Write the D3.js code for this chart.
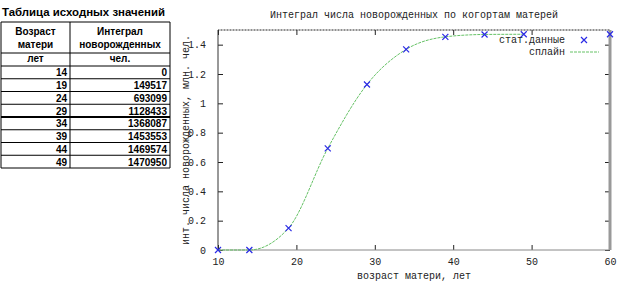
<!DOCTYPE html>
<html>
<head>
<meta charset="utf-8">
<script src="https://cdn.jsdelivr.net/npm/d3@7"></script>
<style>
  body { margin: 0; background: #fff; }
  .mono { font-family: "Liberation Mono", "DejaVu Sans Mono", monospace; font-size: 10px; fill: #222; }
  .tbl { font-family: "Liberation Sans", Arial, sans-serif; font-weight: bold; font-size: 10px; fill: #000; }
</style>
</head>
<body>
<div id="wrapper"></div>
<script>
// source table
const tableAges = [14, 19, 24, 29, 34, 39, 44, 49];
const tableValues = [0, 149517, 693099, 1128433, 1368087, 1453553, 1469574, 1470950];
const tableTitle = "Таблица исходных значений";
const headAge = ["Возраст", "матери", "лет"];
const headValue = ["Интеграл", "новорожденных", "чел."];

// points on the chart (million people)
const pointAges = [10, 14, 19, 24, 29, 34, 39, 44, 49, 60];
const pointValues = [0, 0, 0.149517, 0.693099, 1.128433, 1.368087, 1.453553, 1.469574, 1.470950, 1.470950];
// spline runs over the first part only
const splineAges = [10, 14, 19, 24, 29, 34, 39, 44, 49];
const splineValues = [0, 0, 0.149517, 0.693099, 1.128433, 1.368087, 1.453553, 1.469574, 1.470950];

const xTicks = [10, 20, 30, 40, 50, 60];
const yTicks = [0, 0.2, 0.4, 0.6, 0.8, 1, 1.2, 1.4];

const svg = d3.select("#wrapper").append("svg")
    .attr("width", 623).attr("height", 284);

// ---- table on the left
const tbl = svg.append("g");
tbl.append("text").attr("class", "tbl").attr("x", 2).attr("y", 16)
    .style("font-size", "10px").attr("textLength", 163).attr("lengthAdjust", "spacingAndGlyphs")
    .text(tableTitle);

const colX = [1, 70, 170];
const rowY = d3.scaleLinear().domain([0, 8]).range([66, 168]);
const headLines = [22, 53, 66];

const lineG = tbl.append("g").attr("stroke", "#000");
[...headLines, ...d3.range(1, 9).map(i => rowY(i))].forEach(y => {
    lineG.append("line").attr("x1", colX[0]).attr("x2", colX[2])
        .attr("y1", y).attr("y2", y)
        .attr("stroke-width", y === rowY(4) ? 2 : 1);
});
colX.forEach(x => {
    lineG.append("line").attr("x1", x).attr("x2", x)
        .attr("y1", 22).attr("y2", rowY(8));
});

const headY = [35, 48, 62];
headAge.forEach((t, i) => tbl.append("text").attr("class", "tbl")
    .attr("x", (colX[0] + colX[1]) / 2).attr("y", headY[i])
    .attr("text-anchor", "middle").text(t));
headValue.forEach((t, i) => tbl.append("text").attr("class", "tbl")
    .attr("x", (colX[1] + colX[2]) / 2).attr("y", headY[i])
    .attr("text-anchor", "middle").text(t));

tableAges.forEach((a, i) => {
    tbl.append("text").attr("class", "tbl")
        .attr("x", colX[1] - 3).attr("y", rowY(i + 1) - 2.5)
        .attr("text-anchor", "end").text(a);
    tbl.append("text").attr("class", "tbl")
        .attr("x", colX[2] - 3).attr("y", rowY(i + 1) - 2.5)
        .attr("text-anchor", "end").text(tableValues[i]);
});

// ---- chart
const plot = { left: 218, right: 610, top: 30, bottom: 250 };

const xScale = d3.scaleLinear().domain([10, 60]).range([plot.left, plot.right]);
const yScale = d3.scaleLinear().domain([0, 1.5]).range([plot.bottom, plot.top]);

svg.append("text").attr("class", "mono")
    .attr("x", 414).attr("y", 18).attr("text-anchor", "middle")
    .text("Интеграл числа новорожденных по когортам матерей");

// axes with inward ticks, mirrored
const tickLen = 5;
const monoText = g => g.selectAll("text").attr("class", "mono").attr("fill", null)
    .style("font-family", "'Liberation Mono', monospace").style("font-size", "10px");
svg.append("g").attr("transform", `translate(0,${plot.bottom})`)
    .call(d3.axisBottom(xScale).tickValues(xTicks).tickSizeInner(-tickLen).tickSizeOuter(0).tickPadding(8))
    .call(g => g.select(".domain").remove())
    .call(monoText);
svg.append("g").attr("transform", `translate(0,${plot.top})`)
    .call(d3.axisTop(xScale).tickValues(xTicks).tickSizeInner(-tickLen).tickSizeOuter(0).tickFormat(""))
    .call(g => g.select(".domain").remove());
svg.append("g").attr("transform", `translate(${plot.left},0)`)
    .call(d3.axisLeft(yScale).tickValues(yTicks).tickSizeInner(-tickLen).tickSizeOuter(0).tickPadding(12)
        .tickFormat(d => String(+d.toFixed(1))))
    .call(g => g.select(".domain").remove())
    .call(monoText);
svg.append("g").attr("transform", `translate(${plot.right},0)`)
    .call(d3.axisRight(yScale).tickValues(yTicks).tickSizeInner(-tickLen).tickSizeOuter(0).tickFormat(""))
    .call(g => g.select(".domain").remove());
svg.selectAll(".tick line").attr("stroke", "#222");

// border
svg.append("line").attr("x1", plot.left).attr("x2", plot.right).attr("y1", plot.top).attr("y2", plot.top)
    .attr("stroke", "#222").attr("stroke-dasharray", "1,0.5");
svg.append("line").attr("x1", plot.left).attr("x2", plot.left).attr("y1", plot.top).attr("y2", plot.bottom)
    .attr("stroke", "#333");
svg.append("line").attr("x1", plot.left).attr("x2", plot.right).attr("y1", plot.bottom).attr("y2", plot.bottom)
    .attr("stroke", "#888");
svg.append("line").attr("x1", plot.right).attr("x2", plot.right).attr("y1", plot.top).attr("y2", plot.bottom)
    .attr("stroke", "#999").attr("stroke-width", 3);

// axis labels
svg.append("text").attr("class", "mono").attr("x", 414).attr("y", 279)
    .attr("text-anchor", "middle").text("возраст матери, лет");
svg.append("text").attr("class", "mono")
    .attr("transform", "translate(189,140) rotate(-90)")
    .attr("text-anchor", "middle").text("инт. числа новорожденных, млн. чел.");

// spline
const splineData = splineAges.map((a, i) => ({ x: a, y: splineValues[i] }));
svg.append("path")
    .attr("d", d3.line().x(d => xScale(d.x)).y(d => yScale(d.y)).curve(d3.curveMonotoneX)(splineData))
    .attr("fill", "none").attr("stroke", "#66c266").attr("stroke-width", 1)
    .attr("stroke-dasharray", "3,1");

// data points as crosses
const cross = (g, x, y) => {
    const s = 3;
    g.append("path")
        .attr("d", `M${x - s},${y - s}L${x + s},${y + s}M${x - s},${y + s}L${x + s},${y - s}`)
        .attr("stroke", "#2a2ae6").attr("stroke-width", 1.2).attr("fill", "none");
};
const pts = svg.append("g");
pointAges.forEach((a, i) => cross(pts, xScale(a), yScale(pointValues[i])));

// legend
svg.append("text").attr("class", "mono").attr("x", 565).attr("y", 43)
    .attr("text-anchor", "end").text("стат.данные");
cross(svg, 584, 40);
svg.append("text").attr("class", "mono").attr("x", 565).attr("y", 55)
    .attr("text-anchor", "end").text("сплайн");
svg.append("line").attr("x1", 570).attr("x2", 599).attr("y1", 52).attr("y2", 52)
    .attr("stroke", "#66c266").attr("stroke-dasharray", "3,1");
</script>
</body>
</html>
